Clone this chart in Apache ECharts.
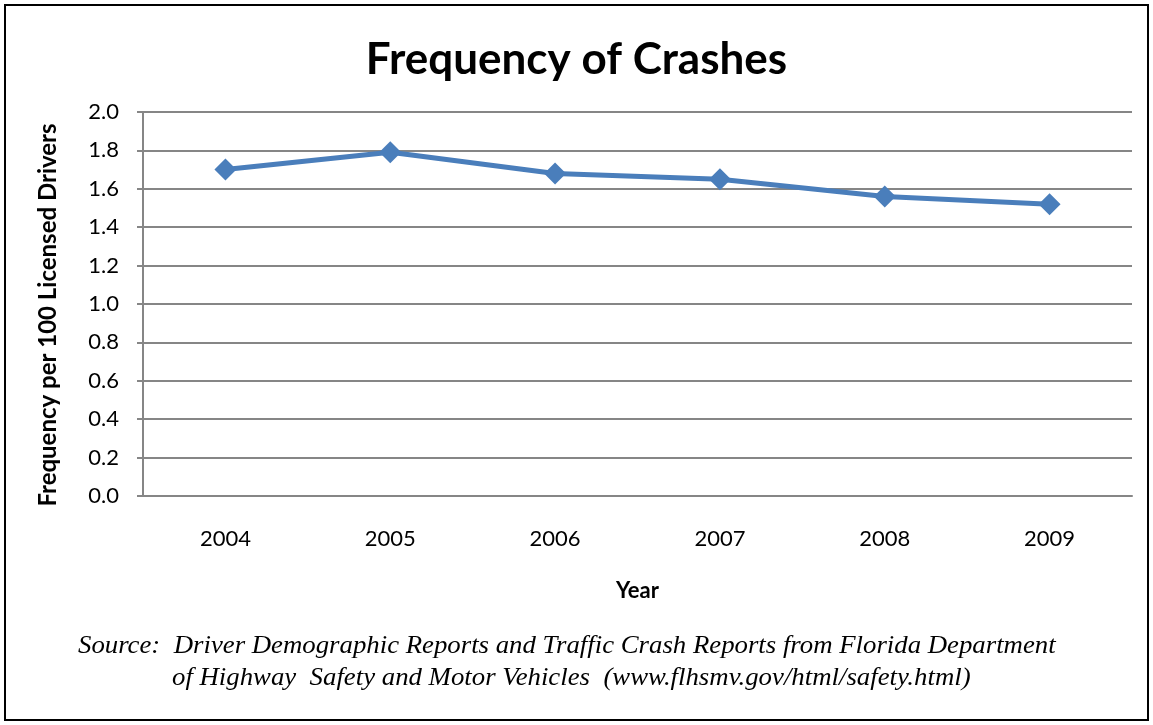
<!DOCTYPE html>
<html>
<head>
<meta charset="utf-8">
<script src="https://cdn.jsdelivr.net/npm/echarts@6/dist/echarts.min.js"></script>
<style>
  html, body { margin: 0; padding: 0; background: #fff; }
  #chart { position: absolute; left: 4px; top: 4px; width: 1145px; height: 717px; border: 2px solid #000; box-sizing: border-box; }
</style>
</head>
<body>
<div id="chart"></div>
<script>
// data
const years = ['2004', '2005', '2006', '2007', '2008', '2009']
const frequency = [1.70, 1.79, 1.68, 1.65, 1.56, 1.52]
const sourceLines = [
  'Source:  Driver Demographic Reports and Traffic Crash Reports from Florida Department',
  'of Highway  Safety and Motor Vehicles  (www.flhsmv.gov/html/safety.html)'
]

const chart = echarts.init(document.getElementById('chart'))
const axisGray = '#868686'
const font = 'Lato, "Open Sans", sans-serif'

chart.setOption({
  animation: false,
  title: {
    text: 'Frequency of Crashes',
    left: 'center',
    top: 27,
    textStyle: { fontFamily: font, fontSize: 44, fontWeight: 'bold', color: '#000' }
  },
  grid: { left: 137, right: 15, top: 106, bottom: 223 },
  xAxis: {
    type: 'category',
    data: years,
    boundaryGap: true,
    name: 'Year',
    nameLocation: 'middle',
    nameGap: 84,
    nameTextStyle: { fontFamily: font, fontSize: 22, fontWeight: 'bold', color: '#000' },
    axisLine: { lineStyle: { color: axisGray, width: 2 } },
    axisTick: { length: 6, lineStyle: { color: axisGray, width: 2 } },
    axisLabel: { fontFamily: font, fontSize: 22, color: '#000', margin: 32 }
  },
  yAxis: {
    type: 'value',
    min: 0,
    max: 2,
    interval: 0.2,
    name: 'Frequency per 100 Licensed Drivers',
    nameLocation: 'middle',
    nameGap: 83,
    nameTextStyle: {
      fontFamily: font, fontSize: 24, fontWeight: 'bold', color: '#000',
      padding: [0, 22, 0, 0]
    },
    axisLine: { show: true, lineStyle: { color: axisGray, width: 2 } },
    axisTick: { show: true, length: 6, lineStyle: { color: axisGray, width: 2 } },
    axisLabel: {
      fontFamily: font, fontSize: 22, color: '#000', margin: 24,
      formatter: v => v.toFixed(1)
    },
    splitLine: { lineStyle: { color: axisGray, width: 2 } }
  },
  series: [{
    type: 'line',
    data: frequency,
    symbol: 'diamond',
    symbolSize: 22,
    lineStyle: { color: '#4a7ebb', width: 5 },
    itemStyle: { color: '#4a7ebb' }
  }],
  graphic: sourceLines.map((line, i) => ({
    type: 'text',
    left: i === 0 ? 72 : 166,
    top: 627 + i * 32,
    scaleX: 1.03,
    style: {
      text: line,
      font: 'italic 26px "Liberation Serif", "DejaVu Serif", serif',
      fill: '#000'
    }
  }))
})
</script>
</body>
</html>
